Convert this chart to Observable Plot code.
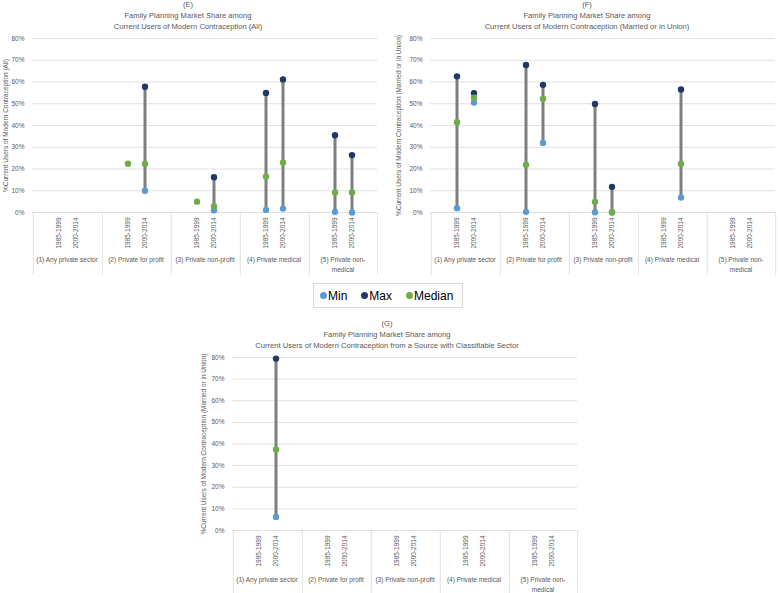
<!DOCTYPE html>
<html>
<head>
<meta charset="utf-8">
<script src="https://cdn.jsdelivr.net/npm/d3@7"></script>
<script src="https://cdn.jsdelivr.net/npm/@observablehq/plot@0.6"></script>
<style>
  html, body { margin: 0; padding: 0; background: #fff; }
  #root { position: relative; width: 778px; height: 593px; overflow: hidden; font-family: "Liberation Sans", Arial, sans-serif; }
  .panel { position: absolute; }
  .title { position: absolute; text-align: center; color: #595959; font-size: 7.6px; line-height: 11px; white-space: nowrap; }
  .legend { position: absolute; border: 1px solid #d9d9d9; box-sizing: border-box; display: flex; align-items: center; justify-content: flex-start; padding-left: 6px; gap: 14px; font-size: 12px; color: #000; }
  .legend span.sw { display: inline-block; width: 7px; height: 7px; border-radius: 50%; margin-right: 1px; vertical-align: middle; position: relative; top: -1px; }
</style>
</head>
<body>
<div id="root"></div>
<script>
// ---------- data ----------
const groups = ["(1) Any private sector", "(2) Private for profit", "(3) Private non-profit", "(4) Private medical", "(5) Private non-medical"];
const periods = ["1985-1999", "2000-2014"];
const yTicks = [0, 10, 20, 30, 40, 50, 60, 70, 80];
const seriesNames = ["Min", "Max", "Median"];
const seriesColors = ["#5b9bd5", "#1f3864", "#70ad47"];

// values in %, order: g1-1985, g1-2000, g2-1985, g2-2000, ...
const eMin = [null, null, null, 10, null, 1, 1.2, 1.8, 0.3, 0];
const eMax = [null, null, null, 57.8, null, 16.2, 55, 61.2, 35.5, 26.4];
const eMed = [null, null, 22.4, 22.4, 5, 2.9, 16.5, 23, 9.2, 9.2];

const fMin = [2, 50.6, 0.3, 32, 0.1, 0, null, 6.9, null, null];
const fMax = [62.6, 54.9, 67.8, 58.7, 49.9, 11.8, null, 56.6, null, null];
const fMed = [41.5, 52.8, 21.9, 52.3, 5, 0.1, null, 22.4, null, null];

const gMin = [null, 6.3, null, null, null, null, null, null, null, null];
const gMax = [null, 79.5, null, null, null, null, null, null, null, null];
const gMed = [null, 37.5, null, null, null, null, null, null, null, null];

const titles = {
  E: ["(E)", "Family Planning Market Share among", "Current Users of Modern Contraception (All)"],
  F: ["(F)", "Family Planning Market Share among", "Current Users of Modern Contraception (Married or in Union)"],
  G: ["(G)", "Family Planning Market Share among", "Current Users of Modern Contraception from a Source with Classifiable Sector"]
};
const yLabels = {
  E: "%Current Users of Modern Contraception (All)",
  F: "%Current Users of Modern Contraception (Married or in Union)",
  G: "%Current Users of Modern Contraception (Married or in Union)"
};

// ---------- helpers ----------
const slots = ["padL", ...periods, "padR"];
function buildRows(mins, maxs, meds) {
  return groups.flatMap((g, i) => periods.map((p, j) => ({
    group: g, period: p, min: mins[i * 2 + j], max: maxs[i * 2 + j], med: meds[i * 2 + j]
  })));
}

function panel(rows, yLabel, o) {
  const plotW = o.width - o.marginLeft - o.marginRight;
  const bw = plotW / (groups.length * slots.length);
  const plotH = o.height - o.marginTop - o.marginBottom;
  const below = 63 * 80 / plotH; // separator length below baseline, in y units
  const sepData = groups.map(g => ({group: g}));
  return Plot.plot({
    width: o.width, height: o.height,
    marginLeft: o.marginLeft, marginRight: o.marginRight,
    marginTop: o.marginTop, marginBottom: o.marginBottom,
    style: {fontFamily: "Liberation Sans, Arial, sans-serif", fontSize: "6.5px", color: "#595959", background: "transparent", overflow: "visible"},
    fx: {domain: groups, padding: 0},
    x: {type: "band", domain: slots, padding: 0},
    y: {domain: [0, 80]},
    marks: [
      Plot.gridY(yTicks, {stroke: "#d9d9d9", strokeOpacity: 1, strokeWidth: 0.8}),
      Plot.ruleX(sepData, {fx: "group", x: d => "padL", y1: 0, y2: -below, dx: -bw / 2, stroke: "#d9d9d9", strokeWidth: 0.8}),
      Plot.ruleX(sepData.slice(-1), {fx: "group", x: d => "padR", y1: 0, y2: -below, dx: bw / 2, stroke: "#d9d9d9", strokeWidth: 0.8}),
      Plot.axisY(yTicks, {tickSize: 0, tickPadding: 8, tickFormat: d => d + "%", label: yLabel, labelAnchor: "center", labelOffset: o.labelOffset, labelArrow: "none"}),
      Plot.axisX({tickRotate: -90, tickSize: 0, tickPadding: 5, tickFormat: d => d.startsWith("pad") ? "" : d, label: null}),
      Plot.axisFx({anchor: "bottom", tickSize: 0, tickPadding: o.groupPad, tickFormat: d => d.replace("non-medical", "non-\nmedical"), label: null, lineHeight: 1.5}),
      Plot.ruleX(rows, {filter: d => d.min != null && d.max != null, fx: "group", x: "period", y1: "min", y2: "max", stroke: "#7f7f7f", strokeWidth: 3}),
      Plot.dot(rows, {fx: "group", x: "period", y: "min", fill: seriesColors[0], r: 3.2}),
      Plot.dot(rows, {fx: "group", x: "period", y: "max", fill: seriesColors[1], r: 3.2}),
      Plot.dot(rows, {fx: "group", x: "period", y: "med", fill: seriesColors[2], r: 3.2})
    ]
  });
}

const root = document.getElementById("root");
function place(el, left, top) {
  const d = document.createElement("div");
  d.className = "panel";
  d.style.left = left + "px";
  d.style.top = top + "px";
  d.appendChild(el);
  root.appendChild(d);
}
function addTitle(lines, centerX, top) {
  const d = document.createElement("div");
  d.className = "title";
  d.style.left = (centerX - 200) + "px";
  d.style.width = "400px";
  d.style.top = top + "px";
  d.innerHTML = lines.map(t => t.replace(/&/g, "&amp;")).join("<br>");
  root.appendChild(d);
}

// ---------- panels ----------
place(panel(buildRows(eMin, eMax, eMed), yLabels.E,
  {width: 385, height: 285, marginLeft: 30, marginRight: 7, marginTop: 38, marginBottom: 73, labelOffset: 29, groupPad: 43}), 0, 0);
place(panel(buildRows(fMin, fMax, fMed), yLabels.F,
  {width: 393, height: 285, marginLeft: 43, marginRight: 2, marginTop: 38, marginBottom: 73, labelOffset: 34, groupPad: 43}), 385, 0);
place(panel(buildRows(gMin, gMax, gMed), yLabels.G,
  {width: 390, height: 273, marginLeft: 30, marginRight: 12, marginTop: 37, marginBottom: 63, labelOffset: 31, groupPad: 45}), 200, 320);

addTitle(titles.E, 188, -1.5);
addTitle(titles.F, 587, -1.5);
addTitle(titles.G, 387, 317.5);

// ---------- legend ----------
const lg = document.createElement("div");
lg.className = "legend";
lg.style.left = "313px"; lg.style.top = "283px"; lg.style.width = "150px"; lg.style.height = "25px";
seriesNames.forEach((n, i) => {
  const item = document.createElement("div");
  const sw = document.createElement("span");
  sw.className = "sw";
  sw.style.background = seriesColors[i];
  item.appendChild(sw);
  item.appendChild(document.createTextNode(n));
  lg.appendChild(item);
});
root.appendChild(lg);
</script>
</body>
</html>
